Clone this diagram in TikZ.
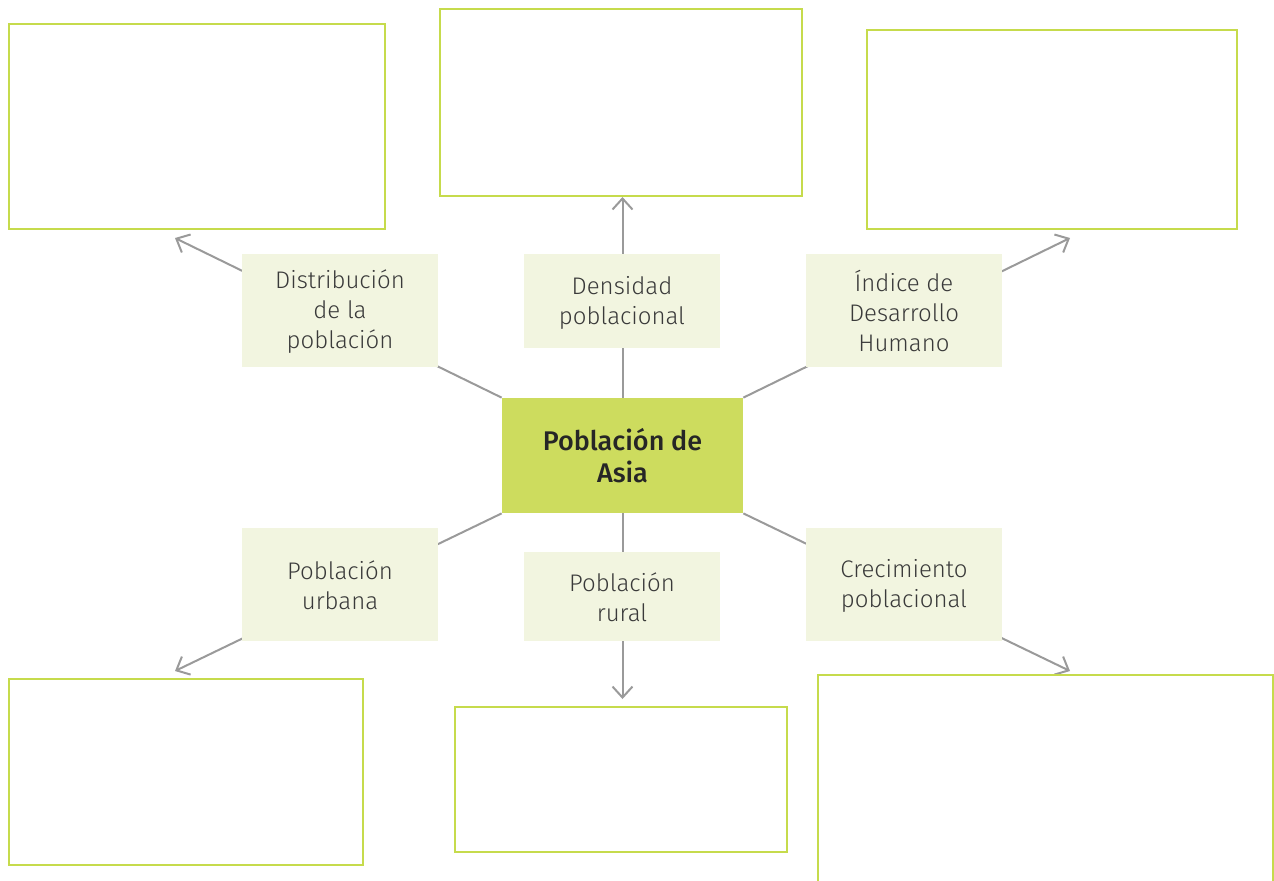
\documentclass[tikz,border=0pt]{standalone}
\usepackage{fontspec}
\setmainfont{Fira Sans}[UprightFont=* Light, BoldFont=* Medium]
\usetikzlibrary{arrows.meta}
\usetikzlibrary{backgrounds}
\definecolor{frameColor}{HTML}{C6DB4C}
\definecolor{hubColor}{HTML}{CDDC5E}
\definecolor{tagColor}{HTML}{F2F5E0}
\definecolor{lineColor}{HTML}{9A9A9A}
\definecolor{textColor}{HTML}{3A3A3A}
\tikzset{>={Straight Barb[length=5.5pt,width=10pt]}}
\tikzset{
  answer/.style={draw=frameColor, line width=1pt, inner sep=0pt},
  tag/.style={fill=tagColor, inner sep=0pt, align=center, text=textColor,
    font=\fontsize{12}{15}\selectfont, minimum width=98pt},
  hub/.style={fill=hubColor, inner sep=0pt, align=center, text=black!85,
    font=\fontsize{13.5}{16}\selectfont\bfseries, minimum width=120.5pt, minimum height=57.5pt},
  link/.style={draw=lineColor, line width=1pt}
}
\begin{document}
\begin{tikzpicture}[x=0.5pt,y=-0.5pt]
				\useasboundingbox (0,0) rectangle (1274,880);
				% empty boxes
				\node [answer, minimum width=188pt, minimum height=102.5pt] (boxDist) at (197,126.5) {};
				\node [answer, minimum width=181pt, minimum height=93.5pt] (boxDens) at (621,102.5) {};
				\node [answer, minimum width=185pt, minimum height=99.5pt] (boxIdh) at (1052,129.5) {};
				\node [answer, minimum width=177pt, minimum height=93pt] (boxUrb) at (186,772) {};
				\node [answer, minimum width=166pt, minimum height=72.5pt] (boxRur) at (621,779.5) {};
				\node [answer, minimum width=227.5pt, minimum height=107pt] (boxCrec) at (1045.5,782) {};
				% labels
				\node [tag, minimum height=56.5pt] (dist) at (340,310.5) {\strut Distribución\\de la\\población};
				\node [tag, minimum height=47pt] (dens) at (622,301) {\strut Densidad\\poblacional};
				\node [tag, minimum height=56.5pt] (idh) at (904,310.5) {\strut Índice de\\Desarrollo\\Humano};
				\node [tag, minimum height=56.5pt] (urb) at (340,584.5) {\strut Población\\urbana};
				\node [tag, minimum height=44.5pt] (rur) at (622,596.5) {\strut Población\\rural};
				\node [tag, minimum height=56.5pt] (crec) at (904,584.5) {\strut Crecimiento\\poblacional};
				\node [hub] (asia) at (622.5,455.5) {Población de\\Asia};
				% arrow ends
				\coordinate (tipDist) at (175,238);
				\coordinate (tipIdh) at (1070,238);
				\coordinate (tipUrb) at (175,671);
				\coordinate (tipRur) at (622.5,699);
				\coordinate (tipCrec) at (1070,671);
				\begin{pgfonlayer}{background}
				\draw [->, link] (asia.north west) -- (tipDist);
				\draw [->, link] (asia.north) -- (boxDens.south -| asia.north);
				\draw [->, link] (asia.north east) -- (tipIdh);
				\draw [->, link] (asia.south west) -- (tipUrb);
				\draw [->, link] (asia.south) -- (tipRur);
				\draw [->, link] (asia.south east) -- (tipCrec);
				\end{pgfonlayer}
\end{tikzpicture}
\end{document}
